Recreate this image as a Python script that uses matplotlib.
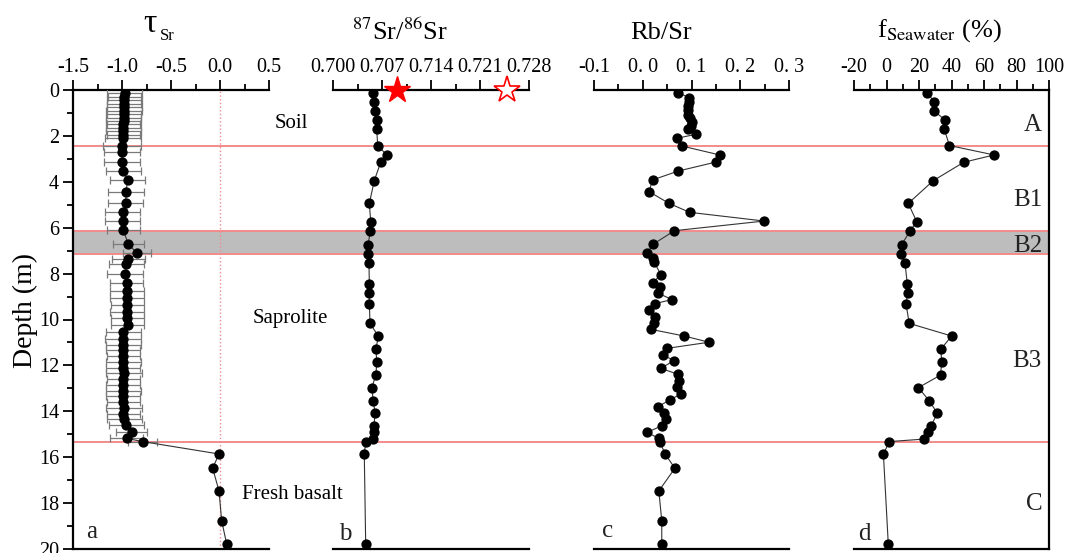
import matplotlib
matplotlib.use("Agg")
import matplotlib.pyplot as plt
from matplotlib.ticker import MultipleLocator

plt.rcParams['font.family'] = ['Liberation Serif', 'DejaVu Serif']
plt.rcParams['mathtext.fontset'] = 'stix'
plt.rcParams['axes.unicode_minus'] = False

# ---- data ----
# tau_Sr profile (depth in m)
tau_depth = [0.15, 0.30, 0.45, 0.60, 0.75, 0.90, 1.05, 1.20, 1.35, 1.50,
             1.65, 1.80, 1.95, 2.10, 2.43, 2.72, 3.12, 3.52, 3.92, 4.43,
             4.94, 5.33, 5.71, 6.10, 6.71, 7.12, 7.36, 7.60, 8.03, 8.42,
             8.74, 9.08, 9.37, 9.66, 9.95, 10.25, 10.55, 10.85, 11.10, 11.35,
             11.60, 11.85, 12.10, 12.35, 12.60, 12.85, 13.10, 13.35, 13.60, 13.85,
             14.10, 14.35, 14.60, 14.92, 15.18, 15.32, 15.86, 16.48, 17.47, 18.77,
             19.78]
tau_sr = [-0.972, -0.975, -0.975, -0.978, -0.978, -0.980, -0.980, -0.982, -0.982, -0.985,
          -0.985, -0.985, -0.988, -0.990, -1.000, -1.000, -1.000, -0.987, -0.942, -0.959,
          -0.962, -0.993, -0.993, -0.987, -0.936, -0.844, -0.936, -0.955, -0.969, -0.952,
          -0.950, -0.950, -0.945, -0.948, -0.945, -0.942, -0.985, -0.990, -0.985, -0.990,
          -0.988, -0.985, -0.990, -0.980, -0.985, -0.990, -0.985, -0.990, -0.985, -0.980,
          -0.985, -0.975, -0.955, -0.900, -0.952, -0.789, -0.010, -0.075, -0.010, 0.017,
          0.068]
tau_err = [0.18, 0.17, 0.18, 0.17, 0.18, 0.18, 0.17, 0.18, 0.18, 0.17,
           0.18, 0.18, 0.17, 0.18, 0.19, 0.18, 0.18, 0.18, 0.18, 0.18,
           0.18, 0.18, 0.18, 0.17, 0.16, 0.145, 0.17, 0.18, 0.18, 0.17,
           0.17, 0.17, 0.17, 0.17, 0.17, 0.17, 0.18, 0.18, 0.18, 0.17,
           0.17, 0.18, 0.17, 0.18, 0.17, 0.17, 0.18, 0.17, 0.17, 0.18,
           0.17, 0.18, 0.18, 0.16, 0.17, 0.15, 0.0, 0.0, 0.0, 0.0,
           0.0]

# 87Sr/86Sr and f_seawater share the same samples
iso_depth = [0.12, 0.51, 0.90, 1.31, 1.71, 2.42, 2.83, 3.15, 3.95, 4.94,
             5.74, 6.13, 6.75, 7.15, 7.55, 8.45, 8.86, 9.32, 10.17, 10.72,
             11.29, 11.84, 12.42, 12.97, 13.54, 14.09, 14.63, 14.89, 15.21, 15.32,
             15.87, 19.78]
sr_ratio = [0.70567, 0.70590, 0.70600, 0.70624, 0.70624, 0.70639, 0.70767, 0.70681, 0.70590, 0.70519,
            0.70539, 0.70529, 0.70504, 0.70504, 0.70514, 0.70519, 0.70519, 0.70519, 0.70529, 0.70647,
            0.70614, 0.70624, 0.70614, 0.70553, 0.70576, 0.70600, 0.70586, 0.70586, 0.70576, 0.70467,
            0.70447, 0.70467]
f_seawater = [25.1, 29.2, 29.2, 36.0, 35.6, 38.7, 66.2, 47.5, 28.8, 13.4,
              18.6, 14.5, 9.3, 8.9, 11.4, 12.8, 13.0, 12.0, 14.0, 40.1,
              33.5, 33.9, 33.3, 19.6, 26.3, 31.3, 27.4, 25.7, 23.1, 1.7,
              -1.9, 1.1]
sr_seawater = 0.7092    # filled star
sr_rain = 0.7248        # open star

# Rb/Sr profile
rb_depth = [0.12, 0.33, 0.51, 0.70, 0.87, 1.09, 1.23, 1.41, 1.55, 1.71,
            1.93, 2.10, 2.44, 2.83, 3.14, 3.53, 3.92, 4.43, 4.94, 5.33,
            5.71, 6.13, 6.71, 7.12, 7.33, 7.48, 8.04, 8.42, 8.60, 8.86,
            9.13, 9.31, 9.59, 9.87, 10.15, 10.43, 10.72, 10.99, 11.26, 11.55,
            11.79, 12.13, 12.39, 12.68, 12.96, 13.25, 13.51, 13.80, 14.06, 14.34,
            14.63, 14.92, 15.18, 15.32, 15.87, 16.48, 17.47, 18.77, 19.78]
rb_sr = [0.073, 0.095, 0.095, 0.092, 0.092, 0.093, 0.097, 0.100, 0.098, 0.093,
         0.109, 0.071, 0.080, 0.158, 0.150, 0.073, 0.020, 0.013, 0.054, 0.096,
         0.249, 0.065, 0.022, 0.008, 0.022, 0.023, 0.037, 0.020, 0.035, 0.032,
         0.060, 0.025, 0.013, 0.025, 0.023, 0.017, 0.085, 0.136, 0.049, 0.042,
         0.064, 0.037, 0.073, 0.075, 0.071, 0.078, 0.055, 0.031, 0.044, 0.048,
         0.039, 0.009, 0.033, 0.035, 0.046, 0.066, 0.033, 0.039, 0.039]

# horizon boundaries (m)
boundaries = [2.43, 6.13, 7.13, 15.32]
grey_band = (6.13, 7.13)

W, H = 1072, 553
fig = plt.figure(figsize=(W / 100, H / 100), dpi=100)

def px_box(x0, x1, y0=90, y1=549):
    return [x0 / W, 1 - y1 / H, (x1 - x0) / W, (y1 - y0) / H]

# background layer: grey band + red boundaries spanning all panels
bg = fig.add_axes(px_box(73, 1049))
bg.set_xlim(73, 1049)
bg.set_ylim(20, 0)
bg.axis('off')
bg.axhspan(grey_band[0], grey_band[1], color='#bdbdbd', lw=0)
for b in boundaries:
    bg.axhline(b, color='#f28b8b', lw=1.4)

red = '#f28b8b'
line_kw = dict(color='#333333', lw=0.8, marker='o', ms=6.4, mfc='black', mec='black', zorder=4)
tick_fs = 14.5

def style(ax, xlim, major, minor, left=False, right=False):
    ax.set_facecolor('none')
    ax.set_xlim(*xlim)
    ax.set_ylim(20, 0)
    ax.xaxis.set_major_locator(MultipleLocator(major))
    ax.xaxis.set_minor_locator(MultipleLocator(minor))
    ax.xaxis.tick_top()
    ax.tick_params(axis='x', which='major', direction='out', length=7, width=1.3,
                   pad=2.5, labelsize=tick_fs)
    ax.tick_params(axis='x', which='minor', direction='out', length=4, width=1.3)
    for s in ['top', 'bottom', 'left', 'right']:
        ax.spines[s].set_linewidth(1.6)
    ax.spines['left'].set_visible(left)
    ax.spines['right'].set_visible(right)
    if left:
        ax.yaxis.set_major_locator(MultipleLocator(2))
        ax.yaxis.set_minor_locator(MultipleLocator(1))
        ax.tick_params(axis='y', which='major', direction='out', length=7, width=1.3,
                       pad=3, labelsize=tick_fs)
        ax.tick_params(axis='y', which='minor', direction='out', length=4, width=1.3)
    else:
        ax.set_yticks([])
        ax.tick_params(axis='y', which='minor', left=False, right=False)

# panel a: tau_Sr
ax_a = fig.add_axes(px_box(73, 269))
style(ax_a, (-1.5, 0.5), 0.5, 0.25, left=True)
ax_a.set_xticks([-1.5, -1.0, -0.5, 0.0, 0.5])
ax_a.set_xticklabels(['-1.5', '-1.0', '-0.5', '0.0', '0.5'])
ax_a.axvline(0, color=red, lw=1, ls=':', zorder=1)
ax_a.errorbar(tau_sr, tau_depth, xerr=tau_err, fmt='none', ecolor='#7a7a7a',
              elinewidth=0.9, capsize=3, capthick=0.9, zorder=3)
ax_a.plot(tau_sr, tau_depth, **line_kw)
ax_a.set_ylabel('Depth (m)', fontsize=20)
ax_a.yaxis.set_label_coords(-(73 - 38) / 196, (549 - 310) / 459)

# panel b: 87Sr/86Sr
ax_b = fig.add_axes(px_box(333, 529))
style(ax_b, (0.700, 0.728), 0.007, 0.0035)
ax_b.set_xticks([0.700, 0.707, 0.714, 0.721, 0.728])
ax_b.set_xticklabels(['0.700', '0.707', '0.714', '0.721', '0.728'])
ax_b.plot(sr_ratio, iso_depth, **line_kw)
ax_b.plot([sr_seawater], [0], marker='*', ms=20, color='red', clip_on=False, zorder=6)
ax_b.plot([sr_rain], [0], marker='*', ms=20, mfc='white', mec='red', mew=1.2,
          clip_on=False, zorder=6)

# panel c: Rb/Sr
ax_c = fig.add_axes(px_box(594, 789))
style(ax_c, (-0.1, 0.3), 0.1, 0.05)
ax_c.set_xticks([-0.1, 0.0, 0.1, 0.2, 0.3])
ax_c.set_xticklabels(['-0.1', '0. 0', '0. 1', '0. 2', '0. 3'])
ax_c.plot(rb_sr, rb_depth, **line_kw)

# panel d: f_seawater
ax_d = fig.add_axes(px_box(854, 1049))
style(ax_d, (-20, 100), 20, 10, right=True)
ax_d.plot(f_seawater, iso_depth, **line_kw)

# titles
def fig_txt(x, y, s, **kw):
    fig.text(x / W, 1 - y / H, s, **kw)

fig_txt(150, 32, 'τ', fontsize=24, ha='center', va='baseline')
fig_txt(160, 40, 'Sr', fontsize=12, ha='left', va='baseline')
fig_txt(400, 40, '$^{87}$Sr/$^{86}$Sr', fontsize=19, ha='center', va='baseline')
fig_txt(661, 39, 'Rb/Sr', fontsize=19, ha='center', va='baseline')
fig_txt(940, 37, 'f$_{\\mathrm{Seawater}}$ (%)', fontsize=19, ha='center', va='baseline')

# zone labels
fig_txt(275, 128, 'Soil', fontsize=15, ha='left', va='baseline')
fig_txt(253, 323, 'Saprolite', fontsize=15, ha='left', va='baseline')
fig_txt(242, 499, 'Fresh basalt', fontsize=15, ha='left', va='baseline')
for lab, x, y in [('A', 1033, 131), ('B1', 1028, 206), ('B2', 1028, 252),
                  ('B3', 1027, 367), ('C', 1034, 510)]:
    fig_txt(x, y, lab, fontsize=18, ha='center', va='baseline', color='#222222')
for lab, x, y in [('a', 92, 538), ('b', 345, 540), ('c', 608, 537), ('d', 864, 540)]:
    fig_txt(x, y, lab, fontsize=18, ha='center', va='baseline', color='#222222')

fig.savefig('out.png', dpi=100)
